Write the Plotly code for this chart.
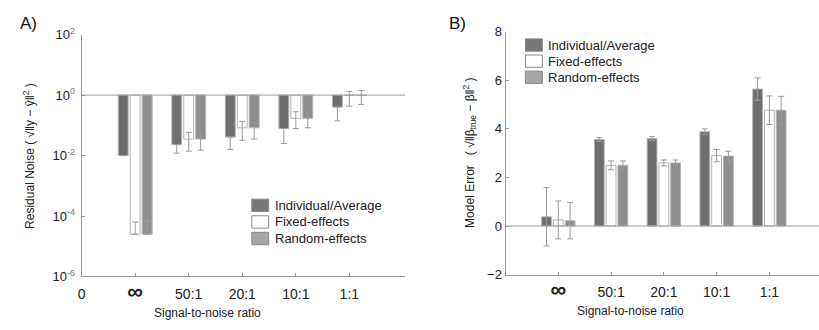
import plotly.graph_objects as go

# ---------------- data ----------------
categories_a = ["0", "∞", "50:1", "20:1", "10:1", "1:1"]
categories_b = ["∞", "50:1", "20:1", "10:1", "1:1"]
positions = [1, 2, 3, 4, 5]
series_names = ["Individual/Average", "Fixed-effects", "Random-effects"]

# Panel A: residual noise (log scale), bars hang from 10^0
a_individual = [0.010, 0.023, 0.041, 0.078, 0.40]
a_fixed = [2.5e-5, 0.035, 0.083, 0.17, 0.975]
a_random = [2.5e-5, 0.035, 0.083, 0.17, 0.975]
# error bar ends (upper, lower)
a_individual_hi = [0.010, 0.023, 0.041, 0.078, 0.40]
a_individual_lo = [0.010, 0.012, 0.016, 0.025, 0.14]
a_fixed_hi = [6.3e-5, 0.058, 0.135, 0.28, 1.32]
a_fixed_lo = [2.5e-5, 0.014, 0.032, 0.078, 0.43]
a_random_hi = [7.0e-5, 0.058, 0.126, 0.26, 1.41]
a_random_lo = [2.5e-5, 0.015, 0.035, 0.083, 0.49]

# Panel B: model error
b_individual = [0.38, 3.56, 3.60, 3.88, 5.64]
b_fixed = [0.25, 2.50, 2.60, 2.90, 4.77]
b_random = [0.22, 2.50, 2.60, 2.88, 4.77]
b_individual_err = [1.20, 0.08, 0.08, 0.12, 0.46]
b_fixed_err = [0.78, 0.18, 0.12, 0.25, 0.59]
b_random_err = [0.75, 0.18, 0.12, 0.20, 0.57]

# ---------------- style ----------------
colors = ["#6e6e6e", "#ffffff", "#8e8e8e"]
legend_colors = ["#767676", "#ffffff", "#a6a6a6"]
outline = "#b4b4b4"
err_color = "#9a9a9a"
axis_color = "#9a9a9a"
FONT = "Liberation Sans, Arial, sans-serif"

W, H = 819, 330
def px_x(p):
    return p / W
def px_y(p):
    return (H - p) / H

fig = go.Figure()

a_vals = [a_individual, a_fixed, a_random]
a_his = [a_individual_hi, a_fixed_hi, a_random_hi]
a_los = [a_individual_lo, a_fixed_lo, a_random_lo]
for name, col, vals, his, los in zip(series_names, colors, a_vals, a_his, a_los):
    fig.add_trace(go.Bar(
        x=positions, y=[v - 1 for v in vals], base=[1] * len(vals),
        name=name, marker=dict(color=col, line=dict(color=outline, width=1)),
        error_y=dict(type="data", symmetric=False,
                     array=[h - v for h, v in zip(his, vals)],
                     arrayminus=[v - l for v, l in zip(vals, los)],
                     color=err_color, thickness=1, width=3),
        xaxis="x", yaxis="y", offsetgroup=name, showlegend=False,
    ))

b_vals = [b_individual, b_fixed, b_random]
b_errs = [b_individual_err, b_fixed_err, b_random_err]
for name, col, vals, errs in zip(series_names, colors, b_vals, b_errs):
    fig.add_trace(go.Bar(
        x=positions, y=vals, name=name,
        marker=dict(color=col, line=dict(color=outline, width=1)),
        error_y=dict(type="data", array=errs, color=err_color, thickness=1, width=3),
        xaxis="x2", yaxis="y2", offsetgroup=name, showlegend=False,
    ))

common_axis = dict(showline=True, linecolor=axis_color, linewidth=1, ticks="inside",
                   ticklen=3, tickcolor=axis_color, showgrid=False, zeroline=False)
xtick_font = dict(family=FONT, size=14, color="#222")
ytick_font = dict(family=FONT, size=13, color="#222")

inf_label = "<span style='font-size:22px;font-weight:bold'>∞</span>"
ticktext_a = ["0", inf_label] + categories_a[2:]
ticktext_b = [inf_label] + categories_b[1:]
sup_style = "<span style='font-size:9px;fill:#777'>"
ytext_a = ["10<sup>" + sup_style + e + "</span></sup>" for e in ["-6", "-4", "-2", "0", "2"]]

fig.update_layout(
    width=W, height=H, margin=dict(l=0, r=0, t=0, b=0),
    paper_bgcolor="white", plot_bgcolor="white",
    font=dict(family=FONT, size=12, color="#222"),
    barmode="group", bargap=0.33, bargroupgap=0.17,
    showlegend=False,
    xaxis=dict(domain=[px_x(78), px_x(403)], range=[0, 6.04],
               tickvals=[0] + positions, ticktext=ticktext_a, anchor="y",
               ticklabelstandoff=5, tickfont=xtick_font, **common_axis),
    yaxis=dict(domain=[px_y(282), px_y(27)], type="log", range=[-6, 2],
               tickvals=[1e-6, 1e-4, 1e-2, 1, 100], ticktext=ytext_a,
               anchor="x", ticklabelstandoff=3, tickfont=ytick_font, **common_axis),
    xaxis2=dict(domain=[px_x(504), 1.0], range=[0, 5.94],
                tickvals=positions, ticktext=ticktext_b, anchor="y2",
                ticklabelstandoff=5, tickfont=xtick_font, **common_axis),
    yaxis2=dict(domain=[px_y(280), px_y(24)], range=[-2, 8],
                tickvals=[-2, 0, 2, 4, 6, 8], anchor="x2", tickfont=ytick_font,
                **common_axis),
)

# reference lines at 10^0 and 0
fig.add_shape(type="line", xref="x domain", yref="y", x0=0, x1=1, y0=1, y1=1,
              line=dict(color=axis_color, width=1))
fig.add_shape(type="line", xref="x2 domain", yref="y2", x0=0, x1=1, y0=0, y1=0,
              line=dict(color=axis_color, width=1))

# legends (swatch + label)
legend_font = dict(family=FONT, size=13, color="#222")
def add_legend(box_x0, box_x1, text_x, row_centers):
    for name, col, yc in zip(series_names, legend_colors, row_centers):
        fig.add_shape(type="rect", xref="paper", yref="paper",
                      x0=px_x(box_x0), x1=px_x(box_x1), y0=px_y(yc + 6.5), y1=px_y(yc - 6.5),
                      fillcolor=col, line=dict(color="#8a8a8a", width=1))
        fig.add_annotation(text=name, x=px_x(text_x), y=px_y(yc), xref="paper", yref="paper",
                           xanchor="left", yanchor="middle", showarrow=False, font=legend_font)

add_legend(249, 266, 270, [207, 224.5, 242])
add_legend(524, 541, 545, [38, 55, 72])

ann_font = dict(family=FONT, size=12, color="#222")
def ann(text, x, y, angle=0, font=ann_font):
    fig.add_annotation(text=text, x=px_x(x), y=px_y(y), xref="paper", yref="paper",
                       xanchor="center", yanchor="middle", showarrow=False,
                       textangle=angle, font=font)

ann("Signal-to-noise ratio", 205, 320)
ann("Signal-to-noise ratio", 630, 318)
ann("Residual Noise ( √‖y − ŷ‖<sup>2</sup> )", 25, 155, -90)
ann("Model Error   ( √‖β<sub>true</sub> − β‖<sup>2</sup> )", 468, 152, -90)
ann("A)", 25, 15, font=dict(family=FONT, size=17, color="#111"))
ann("B)", 456, 15, font=dict(family=FONT, size=17, color="#111"))

fig.write_html("out.html")
